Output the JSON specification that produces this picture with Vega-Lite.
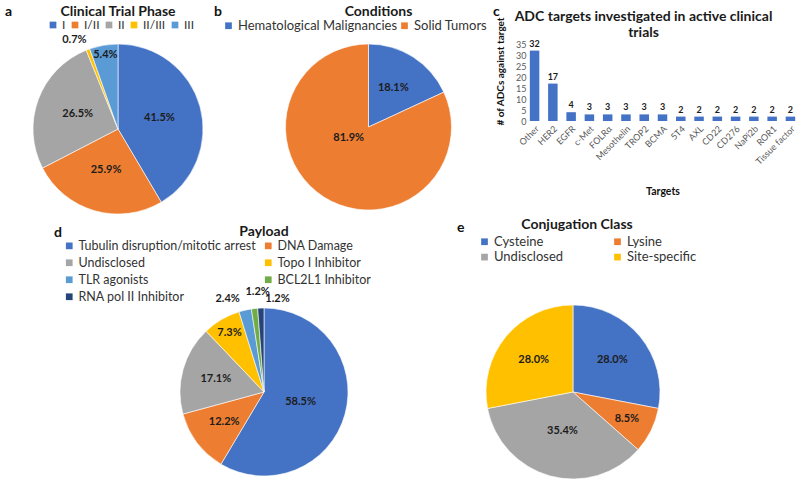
{
  "$schema": "https://vega.github.io/schema/vega-lite/v6.json",
  "padding": {"left": 5, "top": 4, "right": 0, "bottom": 0},
  "config": {
    "font": "Lato",
    "view": {"stroke": null},
    "title": {"fontSize": 14, "fontWeight": "bold", "color": "#1a1a1a", "font": "Lato", "anchor": "middle", "frame": "group"},
    "legend": {"labelFontSize": 13, "labelColor": "#333333", "labelFont": "Lato", "labelLimit": 400, "symbolType": "square", "symbolSize": 45, "symbolStrokeWidth": 0, "titleFontSize": 14, "titleFontWeight": "bold", "titleColor": "#111111", "titleFont": "Lato", "padding": 0, "labelOffset": 3, "titleOrient": "left", "titleAnchor": "start", "titleBaseline": "bottom"},
    "axis": {"grid": false, "labelFont": "Lato", "titleFont": "Lato"}
  },
  "datasets": {
    "phase": [
      {"phase": "I", "share": 0.415, "i": 1},
      {"phase": "I/II", "share": 0.259, "i": 2},
      {"phase": "II", "share": 0.265, "i": 3},
      {"phase": "II/III", "share": 0.007, "i": 4},
      {"phase": "III", "share": 0.054, "i": 5}
    ],
    "conditions": [
      {"cond": "Hematological Malignancies", "share": 0.181, "i": 1},
      {"cond": "Solid Tumors", "share": 0.819, "i": 2}
    ],
    "targets": [
      {"target": "Other", "count": 32},
      {"target": "HER2", "count": 17},
      {"target": "EGFR", "count": 4},
      {"target": "c-Met", "count": 3},
      {"target": "FOLRα", "count": 3},
      {"target": "Mesothelin", "count": 3},
      {"target": "TROP2", "count": 3},
      {"target": "BCMA", "count": 3},
      {"target": "5T4", "count": 2},
      {"target": "AXL", "count": 2},
      {"target": "CD22", "count": 2},
      {"target": "CD276", "count": 2},
      {"target": "NaPi2b", "count": 2},
      {"target": "ROR1", "count": 2},
      {"target": "Tissue factor", "count": 2}
    ],
    "payload": [
      {"payload": "Tubulin disruption/mitotic arrest", "share": 0.585, "i": 1},
      {"payload": "DNA Damage", "share": 0.122, "i": 2},
      {"payload": "Undisclosed", "share": 0.171, "i": 3},
      {"payload": "Topo I Inhibitor", "share": 0.073, "i": 4},
      {"payload": "TLR agonists", "share": 0.024, "i": 5},
      {"payload": "BCL2L1 Inhibitor", "share": 0.012, "i": 6},
      {"payload": "RNA pol II Inhibitor", "share": 0.012, "i": 7}
    ],
    "conj": [
      {"conj": "Cysteine", "share": 0.28, "i": 1},
      {"conj": "Lysine", "share": 0.085, "i": 2},
      {"conj": "Undisclosed", "share": 0.354, "i": 3},
      {"conj": "Site-specific", "share": 0.28, "i": 4}
    ]
  },
  "bounds": "full",
  "spacing": -8,
  "resolve": {"scale": {"color": "independent", "theta": "independent"}, "legend": {"color": "independent"}},
  "vconcat": [
    {
      "bounds": "flush",
      "spacing": 69.5,
      "resolve": {"scale": {"color": "independent", "theta": "independent"}, "legend": {"color": "independent"}},
      "hconcat": [
        {
          "data": {"name": "phase"},
          "width": 182,
          "height": 170,
          "title": {"text": "Clinical Trial Phase", "offset": 0.5},
          "encoding": {
            "theta": {"field": "share", "type": "quantitative", "stack": true},
            "order": {"field": "i", "type": "quantitative"}
          },
          "layer": [
            {
              "mark": {"type": "arc", "stroke": "#ffffff", "strokeWidth": 0.6},
              "encoding": {
                "color": {
                  "field": "phase", "type": "nominal",
                  "scale": {"domain": ["I", "I/II", "II", "II/III", "III"], "range": ["#4472C4", "#ED7D31", "#A5A5A5", "#FFC000", "#5B9BD5"]},
                  "legend": {"orient": "none", "legendX": -22, "legendY": -25, "direction": "horizontal", "columns": 5, "title": "a", "titlePadding": 34, "columnPadding": 3, "labelFontSize": 12}
                }
              }
            },
            {
              "mark": {"type": "text", "radius": 43, "fontSize": 11, "fontWeight": "bold", "font": "Lato"},
              "encoding": {
                "detail": {"field": "phase"},
                "color": {"value": "#1c1c1c"},
                "text": {"condition": {"test": "datum.share < 0.1", "value": ""}, "field": "share", "type": "quantitative", "format": ".1%"}
              }
            },
            {
              "mark": {"type": "text", "radius": 75, "fontSize": 11, "fontWeight": "bold", "font": "Lato"},
              "encoding": {
                "detail": {"field": "phase"},
                "color": {"value": "#1c1c1c"},
                "text": {"condition": {"test": "datum.share >= 0.1 || datum.share < 0.03", "value": ""}, "field": "share", "type": "quantitative", "format": ".1%"}
              }
            },
            {
              "mark": {"type": "text", "radius": 95, "dx": -10, "fontSize": 11, "fontWeight": "bold", "font": "Lato"},
              "encoding": {
                "detail": {"field": "phase"},
                "color": {"value": "#1c1c1c"},
                "text": {"condition": {"test": "datum.share >= 0.03", "value": ""}, "field": "share", "type": "quantitative", "format": ".1%"}
              }
            }
          ]
        },
        {
          "data": {"name": "conditions"},
          "width": 180,
          "height": 166,
          "title": {"text": "Conditions", "offset": 0.5, "dx": 10},
          "encoding": {
            "theta": {"field": "share", "type": "quantitative", "stack": true},
            "order": {"field": "i", "type": "quantitative"}
          },
          "layer": [
            {
              "mark": {"type": "arc", "stroke": "#ffffff", "strokeWidth": 0.6},
              "encoding": {
                "color": {
                  "field": "cond", "type": "nominal",
                  "scale": {"domain": ["Hematological Malignancies", "Solid Tumors"], "range": ["#4472C4", "#ED7D31"]},
                  "legend": {"orient": "none", "legendX": -64.5, "legendY": -25, "direction": "horizontal", "columns": 2, "title": "b", "titlePadding": 0, "columnPadding": 0}
                }
              }
            },
            {
              "mark": {"type": "text", "radius": 46, "fontSize": 11, "fontWeight": "bold", "font": "Lato"},
              "encoding": {
                "detail": {"field": "cond"},
                "color": {"value": "#1c1c1c"},
                "text": {"condition": {"test": "datum.share > 0.5", "value": ""}, "field": "share", "type": "quantitative", "format": ".1%"}
              }
            },
            {
              "mark": {"type": "text", "radius": 22, "dx": -8, "dy": -8, "fontSize": 11, "fontWeight": "bold", "font": "Lato"},
              "encoding": {
                "detail": {"field": "cond"},
                "color": {"value": "#1c1c1c"},
                "text": {"condition": {"test": "datum.share < 0.5", "value": ""}, "field": "share", "type": "quantitative", "format": ".1%"}
              }
            }
          ]
        },
        {
          "data": {"name": "targets"},
          "width": 269,
          "height": 77,
          "title": {"text": ["ADC targets investigated in active clinical", "trials"], "dx": -19, "dy": 2, "offset": -21, "lineHeight": 16},
          "encoding": {
            "x": {
              "field": "target", "type": "nominal", "sort": null,
              "scale": {"paddingInner": 0.48, "paddingOuter": 0.1},
              "axis": {"orient": "bottom", "labelAngle": -45, "labelFontSize": 9, "labelColor": "#595959", "ticks": false, "domain": false, "labelPadding": 3, "title": "Targets", "titleFontSize": 10.5, "titleFontWeight": "bold", "titleColor": "#111111", "titlePadding": 20}
            },
            "y": {
              "field": "count", "type": "quantitative",
              "scale": {"domain": [0, 35]},
              "axis": {"values": [0, 5, 10, 15, 20, 25, 30, 35], "labelFontSize": 9, "labelColor": "#595959", "ticks": false, "domain": false, "grid": false, "labelPadding": 2, "title": "# of ADCs against target", "titleFontSize": 10, "titleFontWeight": "bold", "titleColor": "#111111", "titlePadding": 10, "titleY": 27}
            }
          },
          "layer": [
            {
              "mark": {"type": "bar"},
              "encoding": {
                "color": {
                  "datum": "ADCs", "type": "nominal",
                  "scale": {"range": ["#4472C4"]},
                  "legend": {"orient": "none", "legendX": -35, "legendY": -25, "title": "c", "titlePadding": 0, "symbolOpacity": 0, "labelExpr": "''"}
                }
              }
            },
            {
              "mark": {"type": "text", "baseline": "bottom", "dy": -2, "fontSize": 9, "fontWeight": "bold", "font": "Lato", "color": "#1c1c1c"},
              "encoding": {
                "text": {"field": "count", "type": "quantitative"}
              }
            }
          ]
        }
      ]
    },
    {
      "bounds": "flush",
      "spacing": 0,
      "resolve": {"scale": {"color": "independent", "theta": "independent"}, "legend": {"color": "independent"}},
      "hconcat": [
        {
          "data": {"name": "payload"},
          "width": 474,
          "height": 172,
          "title": {"text": "Payload", "offset": 1},
          "encoding": {
            "theta": {"field": "share", "type": "quantitative", "stack": true},
            "order": {"field": "i", "type": "quantitative"}
          },
          "layer": [
            {
              "mark": {"type": "arc", "radius": 84, "stroke": "#ffffff", "strokeWidth": 0.6},
              "encoding": {
                "color": {
                  "field": "payload", "type": "nominal",
                  "scale": {"domain": ["Tubulin disruption/mitotic arrest", "DNA Damage", "Undisclosed", "Topo I Inhibitor", "TLR agonists", "BCL2L1 Inhibitor", "RNA pol II Inhibitor"], "range": ["#4472C4", "#ED7D31", "#A5A5A5", "#FFC000", "#5B9BD5", "#70AD47", "#264478"]},
                  "legend": {"orient": "none", "legendX": 27, "legendY": -66.5, "direction": "horizontal", "columns": 2, "title": "d", "titlePadding": 1, "columnPadding": 6, "rowPadding": 4, "labelFontSize": 12.5}
                }
              }
            },
            {
              "mark": {"type": "text", "radius": 38, "fontSize": 11, "fontWeight": "bold", "font": "Lato"},
              "encoding": {
                "detail": {"field": "payload"},
                "color": {"value": "#1c1c1c"},
                "text": {"condition": {"test": "datum.share < 0.5", "value": ""}, "field": "share", "type": "quantitative", "format": ".1%"}
              }
            },
            {
              "mark": {"type": "text", "radius": 50, "fontSize": 11, "fontWeight": "bold", "font": "Lato"},
              "encoding": {
                "detail": {"field": "payload"},
                "color": {"value": "#1c1c1c"},
                "text": {"condition": {"test": "datum.share >= 0.5 || datum.share < 0.1", "value": ""}, "field": "share", "type": "quantitative", "format": ".1%"}
              }
            },
            {
              "mark": {"type": "text", "radius": 68, "fontSize": 11, "fontWeight": "bold", "font": "Lato"},
              "encoding": {
                "detail": {"field": "payload"},
                "color": {"value": "#1c1c1c"},
                "text": {"condition": {"test": "datum.share >= 0.1 || datum.share < 0.05", "value": ""}, "field": "share", "type": "quantitative", "format": ".1%"}
              }
            },
            {
              "mark": {"type": "text", "radius": 95, "dx": -15, "fontSize": 11, "fontWeight": "bold", "font": "Lato"},
              "encoding": {
                "detail": {"field": "payload"},
                "color": {"value": "#1c1c1c"},
                "text": {"condition": {"test": "datum.payload !== 'TLR agonists'", "value": ""}, "field": "share", "type": "quantitative", "format": ".1%"}
              }
            },
            {
              "mark": {"type": "text", "radius": 101, "dx": 5, "fontSize": 11, "fontWeight": "bold", "font": "Lato"},
              "encoding": {
                "detail": {"field": "payload"},
                "color": {"value": "#1c1c1c"},
                "text": {"condition": {"test": "datum.payload !== 'BCL2L1 Inhibitor'", "value": ""}, "field": "share", "type": "quantitative", "format": ".1%"}
              }
            },
            {
              "mark": {"type": "text", "radius": 93, "dx": 17, "fontSize": 11, "fontWeight": "bold", "font": "Lato"},
              "encoding": {
                "detail": {"field": "payload"},
                "color": {"value": "#1c1c1c"},
                "text": {"condition": {"test": "datum.payload !== 'RNA pol II Inhibitor'", "value": ""}, "field": "share", "type": "quantitative", "format": ".1%"}
              }
            }
          ]
        },
        {
          "data": {"name": "conj"},
          "width": 144,
          "height": 172,
          "title": {"text": "Conjugation Class", "offset": 3, "dx": 4},
          "encoding": {
            "theta": {"field": "share", "type": "quantitative", "stack": true},
            "order": {"field": "i", "type": "quantitative"}
          },
          "layer": [
            {
              "mark": {"type": "arc", "radius": 87, "stroke": "#ffffff", "strokeWidth": 0.6},
              "encoding": {
                "color": {
                  "field": "conj", "type": "nominal",
                  "scale": {"domain": ["Cysteine", "Lysine", "Undisclosed", "Site-specific"], "range": ["#4472C4", "#ED7D31", "#A5A5A5", "#FFC000"]},
                  "legend": {"orient": "none", "legendX": -44, "legendY": -71, "direction": "horizontal", "columns": 2, "title": "e", "titlePadding": 13, "columnPadding": 47, "rowPadding": 1.6}
                }
              }
            },
            {
              "mark": {"type": "text", "radius": 40, "fontSize": 11, "fontWeight": "bold", "font": "Lato"},
              "encoding": {
                "detail": {"field": "conj"},
                "color": {"value": "#1c1c1c"},
                "text": {"condition": {"test": "datum.share < 0.3", "value": ""}, "field": "share", "type": "quantitative", "format": ".1%"}
              }
            },
            {
              "mark": {"type": "text", "radius": 51, "fontSize": 11, "fontWeight": "bold", "font": "Lato"},
              "encoding": {
                "detail": {"field": "conj"},
                "color": {"value": "#1c1c1c"},
                "text": {"condition": {"test": "datum.share >= 0.3 || datum.share < 0.1", "value": ""}, "field": "share", "type": "quantitative", "format": ".1%"}
              }
            },
            {
              "mark": {"type": "text", "radius": 60, "fontSize": 11, "fontWeight": "bold", "font": "Lato"},
              "encoding": {
                "detail": {"field": "conj"},
                "color": {"value": "#1c1c1c"},
                "text": {"condition": {"test": "datum.share >= 0.1", "value": ""}, "field": "share", "type": "quantitative", "format": ".1%"}
              }
            }
          ]
        }
      ]
    }
  ]
}
